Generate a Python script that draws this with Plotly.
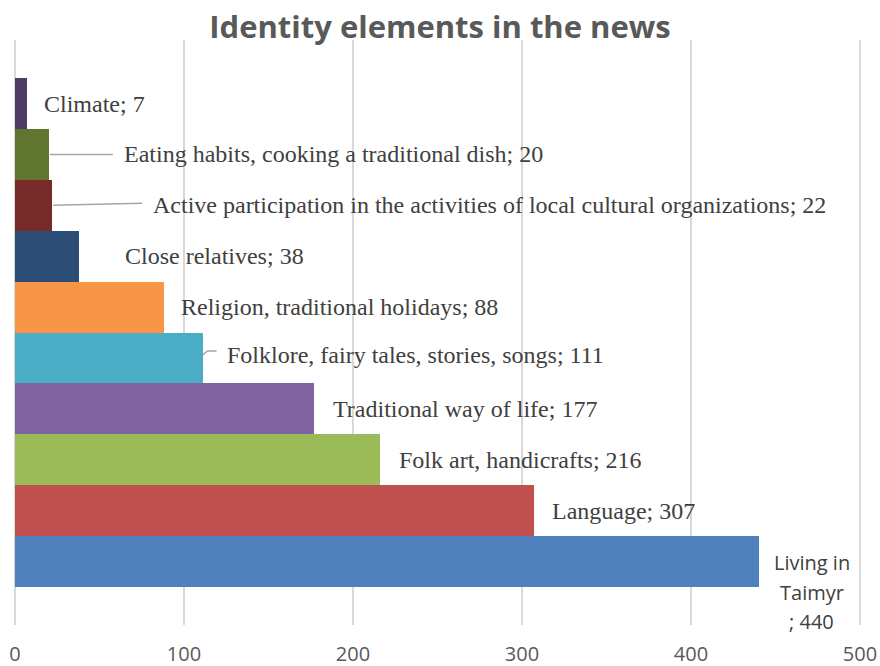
import plotly.graph_objects as go

# ---- data ----
categories = [
    "Living in Taimyr",
    "Language",
    "Folk art, handicrafts",
    "Traditional way of life",
    "Folklore, fairy tales, stories, songs",
    "Religion, traditional holidays",
    "Close relatives",
    "Active participation in the activities of local cultural organizations",
    "Eating habits, cooking a traditional dish",
    "Climate",
]
values = [440, 307, 216, 177, 111, 88, 38, 22, 20, 7]
tick_vals = [0, 100, 200, 300, 400, 500]
title_text = "Identity elements in the news"
wrapped_first_label = ["Living in", "Taimyr", "; " + str(values[0])]

# ---- styles ----
colors = ["#4F81BD", "#C0504D", "#9BBB59", "#8064A2", "#4BACC6",
          "#F79646", "#2C4D75", "#772C2A", "#5F7530", "#4D3B62"]
label_dx = [53, 16, 17, 17, 22, 15, 44, 99, 73, 15]
label_dy = [0, 0, 0, 0, 3, 0, 0, 0, 0, 0]
wrapped_dy = [-1.5, -31, -60.5]
serif = "Liberation Serif"

fig = go.Figure(go.Bar(
    x=values, y=list(range(len(categories))), orientation="h",
    marker=dict(color=colors, line=dict(width=0)),
    hovertext=categories, hoverinfo="text+x",
))

annotations = []
for i, (c, v) in enumerate(zip(categories, values)):
    if i == 0:
        for line, dy in zip(wrapped_first_label, wrapped_dy):
            annotations.append(dict(
                x=v, y=i, xref="x", yref="y", showarrow=False,
                text=line, xanchor="center", yanchor="middle", align="center",
                xshift=label_dx[i], yshift=dy,
                font=dict(family="Open Sans", size=20, color="#404040")))
    else:
        annotations.append(dict(
            x=v, y=i, xref="x", yref="y", showarrow=False,
            text=f"{c}; {v}", xanchor="left", yanchor="middle",
            xshift=label_dx[i], yshift=label_dy[i],
            font=dict(family=serif, size=24, color="#404040")))

lead = dict(color="#A6A6A6", width=1.5)
shapes = [
    dict(type="line", xref="x", yref="y", xsizemode="pixel", ysizemode="pixel",
         xanchor=values[8], yanchor=8, x0=1, x1=64, y0=0, y1=0, line=lead),
    dict(type="line", xref="x", yref="y", xsizemode="pixel", ysizemode="pixel",
         xanchor=values[7], yanchor=7, x0=1, x1=90, y0=0, y1=2, line=lead),
    dict(type="path", xref="x", yref="y", xsizemode="pixel", ysizemode="pixel",
         xanchor=values[4], yanchor=4, path="M 0,3 L 5,7 L 14,7", line=lead),
]

fig.update_layout(
    width=880, height=666,
    margin=dict(l=14, r=19, t=40, b=41, autoexpand=False),
    paper_bgcolor="white", plot_bgcolor="white",
    bargap=0, showlegend=False,
    title=dict(text=title_text, x=440/880, xanchor="center",
               y=1 - 27/666, yanchor="middle", xref="container",
               font=dict(family="Open Sans", size=31, color="#595959", weight="bold")),
    xaxis=dict(range=[-0.6, 500.6], tickvals=tick_vals, showgrid=True,
               gridcolor="#D9D9D9", gridwidth=1.5, zeroline=False,
               showline=False, ticks="outside", ticklen=11,
               tickcolor="rgba(0,0,0,0)",
               tickfont=dict(family="Open Sans", size=20, color="#595959")),
    yaxis=dict(range=[-1.25, len(categories) - 1 + 1.25], showticklabels=False,
               showgrid=False, zeroline=False, showline=False),
    annotations=annotations, shapes=shapes,
)
fig.write_html("out.html")
